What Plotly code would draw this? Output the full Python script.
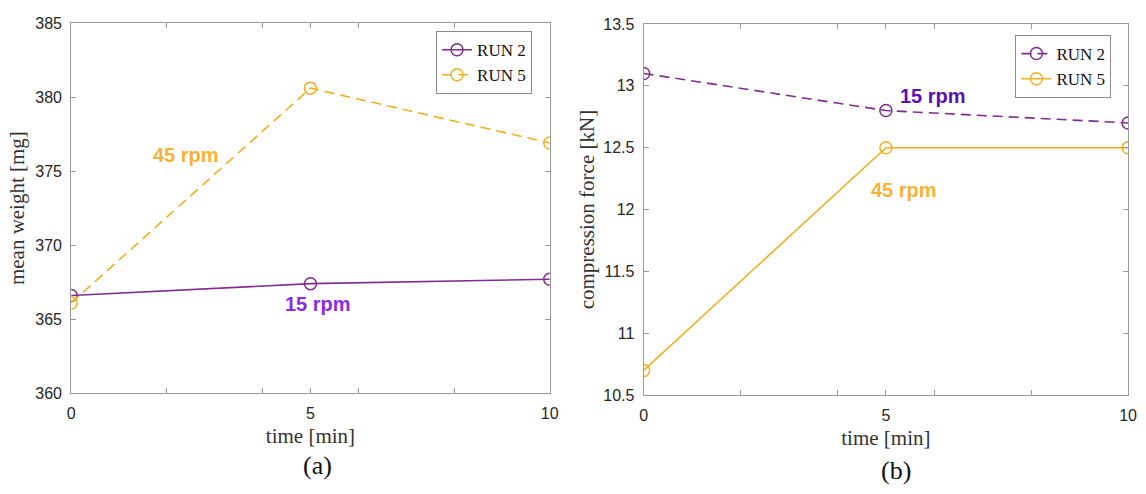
import plotly.graph_objects as go

# Sampling times (min)
time_min = [0, 5, 10]

# Panel (a): mean tablet weight [mg]
weight_run2 = [366.6, 367.4, 367.7]
weight_run5 = [366.1, 380.6, 376.9]

# Panel (b): compression force [kN]
force_run2 = [13.1, 12.8, 12.7]
force_run5 = [10.7, 12.5, 12.5]

# Axis ticks
x_tickvals = [0, 2, 4, 5, 6, 8, 10]
x_ticktext = ["0", "", "", "5", "", "", "10"]
weight_ticks = [360, 365, 370, 375, 380, 385]
weight_ticktext = ["360", "365", "370", "375", "380", "385"]
force_ticks = [10.5, 11, 11.5, 12, 12.5, 13, 13.5]
force_ticktext = ["10.5", "11", "11.5", "12", "12.5", "13", "13.5"]

PURPLE = "#7E2F8E"
YELLOW = "#EDB120"
SANS = "Liberation Sans, Arial, sans-serif"
SERIF = "Liberation Serif, Times New Roman, serif"
DASH = "10px,6px"

fig = go.Figure()

marker = dict(symbol="circle-open", size=12, line=dict(width=1.5))

fig.add_trace(go.Scatter(
    x=time_min, y=weight_run2, name="RUN 2", mode="lines+markers",
    line=dict(color=PURPLE, width=1.6), marker=dict(color=PURPLE, **marker),
    xaxis="x", yaxis="y", legend="legend"))
fig.add_trace(go.Scatter(
    x=time_min, y=weight_run5, name="RUN 5", mode="lines+markers",
    line=dict(color=YELLOW, width=1.6, dash=DASH), marker=dict(color=YELLOW, **marker),
    xaxis="x", yaxis="y", legend="legend"))

fig.add_trace(go.Scatter(
    x=time_min, y=force_run2, name="RUN 2", mode="lines+markers",
    line=dict(color=PURPLE, width=1.6, dash=DASH), marker=dict(color=PURPLE, **marker),
    xaxis="x2", yaxis="y2", legend="legend2"))
fig.add_trace(go.Scatter(
    x=time_min, y=force_run5, name="RUN 5", mode="lines+markers",
    line=dict(color=YELLOW, width=1.6), marker=dict(color=YELLOW, **marker),
    xaxis="x2", yaxis="y2", legend="legend2"))

W, H = 1146, 494

axis_common = dict(
    showline=True, linecolor="#9a9a9a", linewidth=1, mirror="ticks",
    ticks="inside", ticklen=5, tickcolor="#9a9a9a", showgrid=False, zeroline=False,
    tickfont=dict(family=SANS, size=16, color="#262626"),
)
title_font = dict(family=SERIF, size=21, color="#333333")

fig.update_layout(
    width=W, height=H,
    margin=dict(l=0, r=0, t=0, b=0),
    paper_bgcolor="white", plot_bgcolor="white",
    xaxis=dict(domain=[68 / W, 552 / W], range=[0, 10], anchor="y",
               tickmode="array", tickvals=x_tickvals, ticktext=x_ticktext,
               ticklabelstandoff=6,
               title=dict(text="time [min]", font=title_font, standoff=6),
               **axis_common),
    yaxis=dict(domain=[1 - 399 / H, 1 - 15.5 / H], range=[360, 385], anchor="x",
               tickmode="array", tickvals=weight_ticks, ticktext=weight_ticktext,
               ticklabelstandoff=5,
               title=dict(text="mean weight [mg]", font=title_font, standoff=4),
               **axis_common),
    xaxis2=dict(domain=[647 / W, 1137 / W], range=[0, 10], anchor="y2",
                tickmode="array", tickvals=x_tickvals, ticktext=x_ticktext,
                ticklabelstandoff=6,
                title=dict(text="time [min]", font=title_font, standoff=6),
                **axis_common),
    yaxis2=dict(domain=[1 - 401 / H, 1 - 16.5 / H], range=[10.5, 13.5], anchor="x2",
                tickmode="array", tickvals=force_ticks, ticktext=force_ticktext,
                ticklabelstandoff=5,
                title=dict(text="compression force [kN]", font=title_font, standoff=2),
                **axis_common),
    legend=dict(x=437 / W, y=1 - 24 / H, xanchor="left", yanchor="top",
                bgcolor="white", bordercolor="#8c8c8c", borderwidth=1,
                font=dict(family=SERIF, size=17, color="#111111"),
                tracegroupgap=0, itemwidth=30),
    legend2=dict(x=1023 / W, y=1 - 28 / H, xanchor="left", yanchor="top",
                 bgcolor="white", bordercolor="#8c8c8c", borderwidth=1,
                 font=dict(family=SERIF, size=17, color="#111111"),
                 tracegroupgap=0, itemwidth=30),
    showlegend=True,
)


def rpm_font(color):
    return dict(family=SANS, size=20, color=color, weight="bold")


annotations = [
    dict(x=2.39, y=376.1, xref="x", yref="y", text="45 rpm", showarrow=False, font=rpm_font("#F7B232")),
    dict(x=5.15, y=366.0, xref="x", yref="y", text="15 rpm", showarrow=False, font=rpm_font("#8A2BE2")),
    dict(x=5.98, y=12.92, xref="x2", yref="y2", text="15 rpm", showarrow=False, font=rpm_font("#5A10B0")),
    dict(x=5.37, y=12.16, xref="x2", yref="y2", text="45 rpm", showarrow=False, font=rpm_font("#F7B232")),
    dict(x=316.7 / W, y=1 - 474 / H, xref="paper", yref="paper", text="(a)", showarrow=False,
         xanchor="center", yanchor="middle", font=dict(family=SERIF, size=26, color="#111111")),
    dict(x=902 / W, y=1 - 479 / H, xref="paper", yref="paper", text="(b)", showarrow=False,
         xanchor="center", yanchor="middle", font=dict(family=SERIF, size=26, color="#111111")),
]
fig.update_layout(annotations=annotations)

fig.write_html("out.html")
